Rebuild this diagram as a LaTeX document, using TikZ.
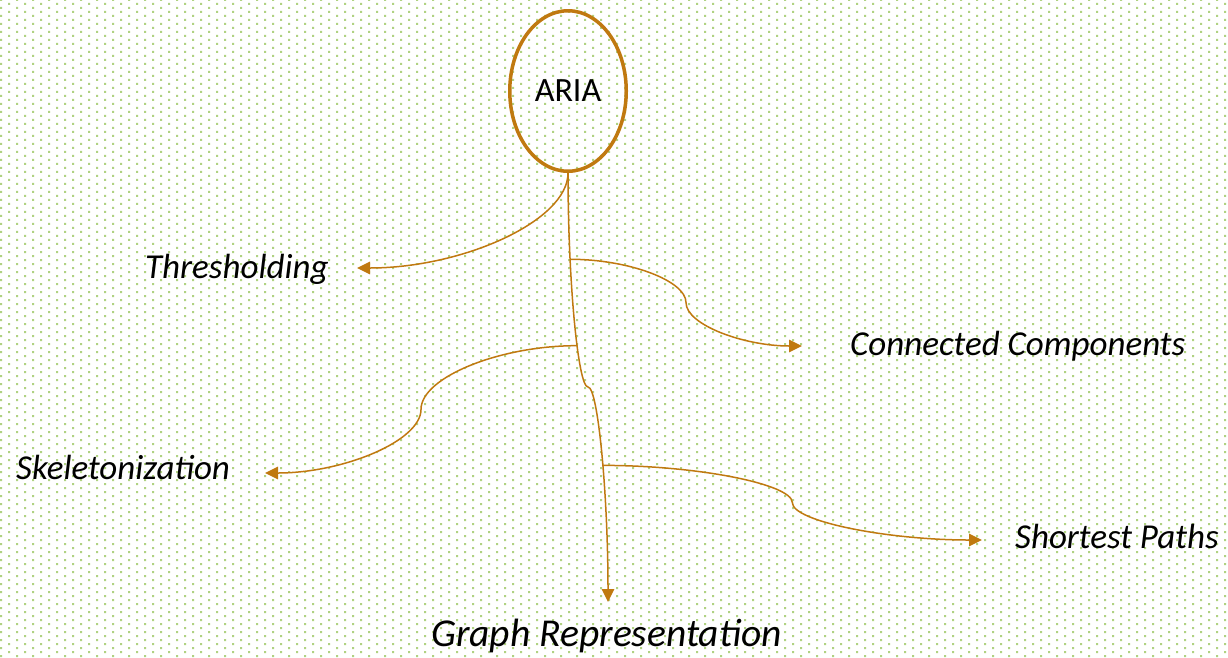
\documentclass[tikz,border=0pt]{standalone}
\usepackage{fontspec}
\setmainfont{Carlito}
\usetikzlibrary{arrows.meta,patterns,shapes.geometric,calc}

% staggered dot grid for the slide background
\pgfdeclarepatternformonly{gridpts}{\pgfpointorigin}{\pgfpoint{10pt}{6pt}}{\pgfpoint{16pt}{8pt}}{%
  \pgfpathrectangle{\pgfpoint{0pt}{0pt}}{\pgfpoint{2pt}{2pt}}%
  \pgfpathrectangle{\pgfpoint{8pt}{4pt}}{\pgfpoint{2pt}{2pt}}%
  \pgfusepath{fill}}

\definecolor{accent}{RGB}{192,121,16}
\definecolor{dotgreen}{RGB}{176,210,130}

\tikzset{
  link/.style={draw=accent, line width=1.5pt, -{Triangle[length=13pt,width=12.5pt]}},
  stage/.style={inner sep=0pt, anchor=base west, font=\fontsize{35}{42}\selectfont\itshape},
  bigstage/.style={inner sep=0pt, anchor=base west, font=\fontsize{39.5}{47}\selectfont\itshape},
}

\begin{document}
\begin{tikzpicture}[x=1pt,y=-1pt]
\useasboundingbox (0,0) rectangle (1228,657);
\fill[white] (0,0) rectangle (1228,657);
\fill[pattern=gridpts, pattern color=dotgreen] (0,0) rectangle (1228,657);

% root
\node[ellipse, draw=accent, line width=3.5pt, minimum width=116.5pt, minimum height=160.5pt,
      inner sep=0pt, font=\fontsize{34}{40}\selectfont] (aria) at (568,91) {ARIA};

% stage labels
\node[stage] (thr) at (145,278) {Thresholding};
\node[stage] (cc) at (850,355) {Connected Components};
\node[stage] (skel) at (16,479) {Skeletonization};
\node[stage] (sp) at (1015,548) {Shortest Paths};
\node[bigstage] (graph) at (431,646) {Graph Representation};

% arrow tips in front of the labels
\coordinate (thrtip) at (357,268);
\coordinate (cctip) at (802,346);
\coordinate (skeltip) at (265,473);
\coordinate (sptip) at (982,540);
\coordinate (graphtip) at (608,602);
\coordinate (tmid) at (588,387);

% main trunk down to the graph stage, with the branch points on it
\draw[link] (aria.south) .. controls +(0,107.5) and +(-10,0) .. (tmid)
    coordinate[pos=0.275] (ccfrom) coordinate[pos=0.615] (skelfrom)
  .. controls +(10,0) and +(0,-107.5) .. (graphtip)
    coordinate[pos=0.545] (spfrom);

% thresholding
\draw[link] (aria.south) .. controls +(0,48) and +(105.5,0) .. (thrtip);

% S-shaped branches
\coordinate (ccmid) at ($(ccfrom)!0.5!(cctip)$);
\coordinate (skelmid) at ($(skelfrom)!0.5!(skeltip)$);
\coordinate (spmid) at ($(spfrom)!0.5!(sptip)$);

\draw[link] (ccfrom) .. controls +(58,0) and +(0,-22.2) .. (ccmid)
  .. controls +(0,22.2) and +(-58,0) .. (cctip);
\draw[link] (skelfrom) .. controls +(-78,0) and +(0,-31.8) .. (skelmid)
  .. controls +(0,31.8) and +(78,0) .. (skeltip);
\draw[link] (spfrom) .. controls +(95,0) and +(0,-18.6) .. (spmid)
  .. controls +(0,18.6) and +(-95,0) .. (sptip);
\end{tikzpicture}
\end{document}
